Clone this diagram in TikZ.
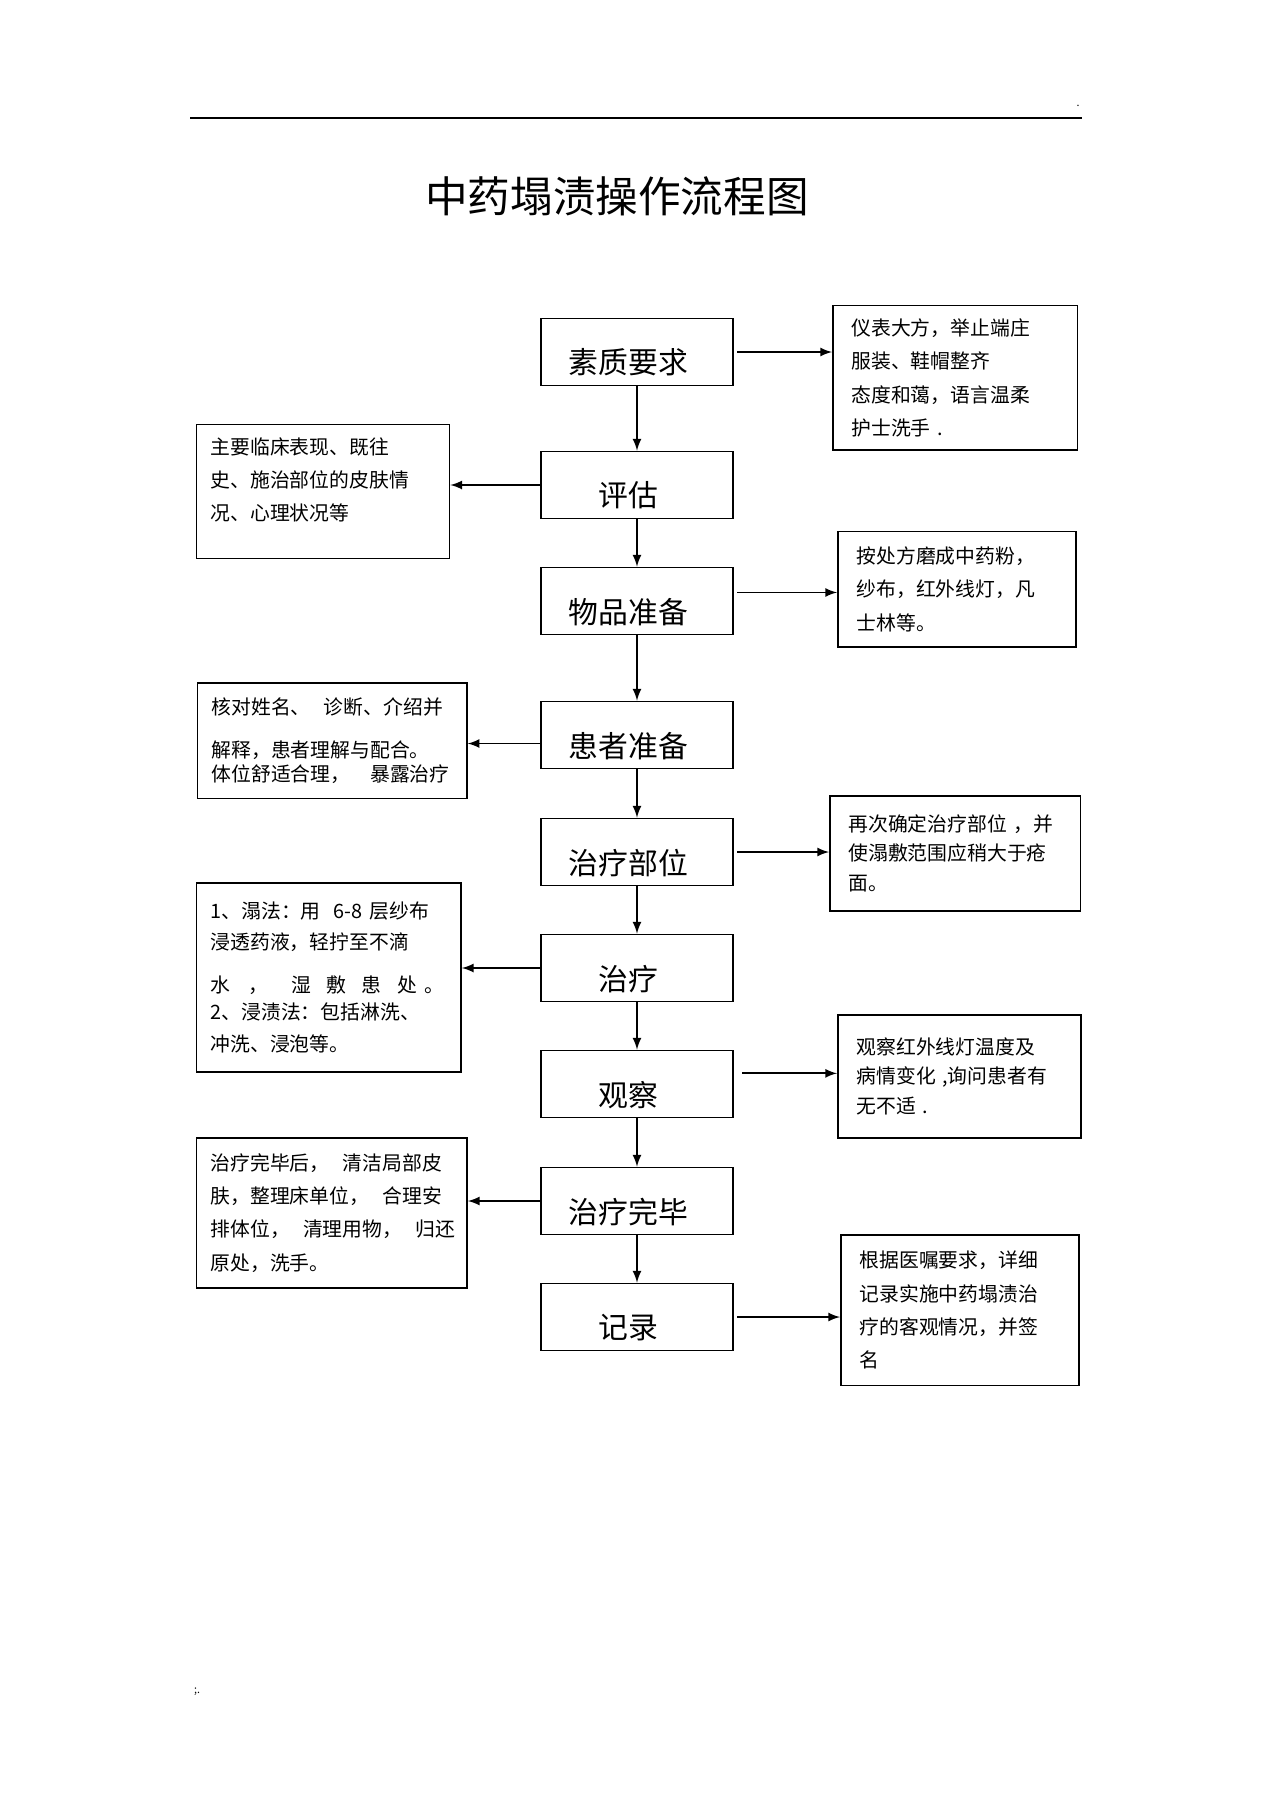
\documentclass[tikz,border=0pt]{standalone}
\usepackage{fontspec}
\usepackage{tikz}
\usetikzlibrary{arrows,positioning,calc}
\newfontfamily\cjk{Noto Sans CJK SC}
\tikzset{stage/.style={draw, line width=0.7pt, minimum width=3.17cm, minimum height=1.11cm, inner sep=0pt},
  stagetext/.style={font={\cjk\fontsize{14}{16}\selectfont}, xshift=-4pt, yshift=-5pt},
  side/.style={draw, line width=0.7pt, anchor=north west, align=left, inner sep=0pt, font={\cjk\fontsize{9.3}{15.6}\selectfont}},
  flow/.style={line width=0.9pt, -latex}}

\begin{document}
\begin{tikzpicture}[x=0.0165cm, y=-0.0165cm]
\useasboundingbox (0,0) rectangle (1274,1804);

\draw[line width=0.9pt] (190,118) -- (1082,118);
\node[font={\cjk\fontsize{5}{5}\selectfont}] (dot) at (1078,106) {.};
\node[font={\cjk\fontsize{5}{5}\selectfont}] (marks) at (197,1692) {;.};
\node[font={\cjk\fontsize{20}{24}\selectfont}] (title) at (617,196) {中药塌渍操作流程图};

% main steps
\node[stage, label={[stagetext]center:素质要求}] (s1) at (637,352) {};
\node[stage, label={[stagetext]center:评估}] (s2) at (637,485) {};
\node[stage, label={[stagetext]center:物品准备}] (s3) at (637,601) {};
\node[stage, label={[stagetext]center:患者准备}] (s4) at (637,735) {};
\node[stage, label={[stagetext]center:治疗部位}] (s5) at (637,852) {};
\node[stage, label={[stagetext]center:治疗}] (s6) at (637,968) {};
\node[stage, label={[stagetext]center:观察}] (s7) at (637,1084) {};
\node[stage, label={[stagetext]center:治疗完毕}] (s8) at (637,1201) {};
\node[stage, label={[stagetext]center:记录}] (s9) at (637,1317) {};

% notes right
\node[side, minimum width=4.04cm, minimum height=2.38cm, text width=3.42cm] (r1) at (832,305)
  {仪表大方，举止端庄\\服装、鞋帽整齐\\态度和蔼，语言温柔\\护士洗手~.};
\node[side, minimum width=3.93cm, minimum height=1.90cm, text width=3.31cm] (r2) at (837,531)
  {按处方磨成中药粉，\\纱布，红外线灯，凡\\士林等。};
\node[side, minimum width=4.14cm, minimum height=1.90cm, text width=3.52cm] (r3) at (829,795)
  {再次确定治疗部位~，并\\[-1.6pt]使溻敷范围应稍大于疮\\[-1.6pt]面。};
\node[side, minimum width=4.01cm, minimum height=2.03cm, text width=3.39cm] (r4) at (837,1014)
  {观察红外线灯温度及\\[-1.6pt]病情变化~,询问患者有\\[-1.6pt]无不适~.};
\node[side, minimum width=3.93cm, minimum height=2.49cm, text width=3.31cm] (r5) at (840,1234)
  {根据医嘱要求，详细\\记录实施中药塌渍治\\疗的客观情况，并签\\名};

% notes left
\node[side, minimum width=4.17cm, minimum height=2.21cm, text width=3.71cm] (l1) at (196,424)
  {主要临床表现、既往\\史、施治部位的皮肤情\\况、心理状况等\\[-4pt]\mbox{}};
\node[side, minimum width=4.44cm, minimum height=1.91cm, text width=3.98cm] (l2) at (197,682)
  {核对姓名、~~诊断、介绍并\\[4.4pt]解释，患者理解与配合。\\[-4.3pt]体位舒适合理，~~~暴露治疗};
\node[side, minimum width=4.36cm, minimum height=3.12cm, text width=3.90cm] (l3) at (196,882)
  {1、溻法：用~~6-8~层纱布\\[-1pt]浸透药液，轻拧至不滴\\[4.4pt]水\hspace{0.9em}，\hspace{1.2em}湿\hspace{0.75em}敷\hspace{0.75em}患\hspace{0.85em}处\hspace{0.35em}。\\[-2.7pt]2、浸渍法：包括淋洗、\\[-1pt]冲洗、浸泡等。};
\node[side, minimum width=4.46cm, minimum height=2.48cm, text width=4.00cm] (l4) at (196,1137)
  {治疗完毕后，~~清洁局部皮\\肤，整理床单位，~~合理安\\排体位，~~清理用物，~~归还\\原处，洗手。};

% arrows
\foreach \a/\b in {s1/s2,s2/s3,s3/s4,s4/s5,s5/s6,s6/s7,s7/s8,s8/s9}
  \draw[flow] (\a) -- (\b);

\draw[flow, shorten <=1.5pt] (s1.east) -- (s1.east -| r1.west);
\draw[flow, shorten <=1.5pt] ([yshift=4pt]s3.east) -- ([yshift=4pt]s3.east -| r2.west);
\draw[flow, shorten <=1.5pt] (s5.east) -- (s5.east -| r3.west);
\draw[flow, shorten <=4pt] ([yshift=5pt]s7.east) -- ([yshift=5pt]s7.east -| r4.west);
\draw[flow, shorten <=1.5pt] (s9.east) -- (s9.east -| r5.west);

\draw[flow] (s2.west) -- (s2.west -| l1.east);
\draw[flow] ([yshift=-4pt]s4.west) -- ([yshift=-4pt]s4.west -| l2.east);
\draw[flow] (s6.west) -- (s6.west -| l3.east);
\draw[flow] (s8.west) -- (s8.west -| l4.east);

\end{tikzpicture}
\end{document}
